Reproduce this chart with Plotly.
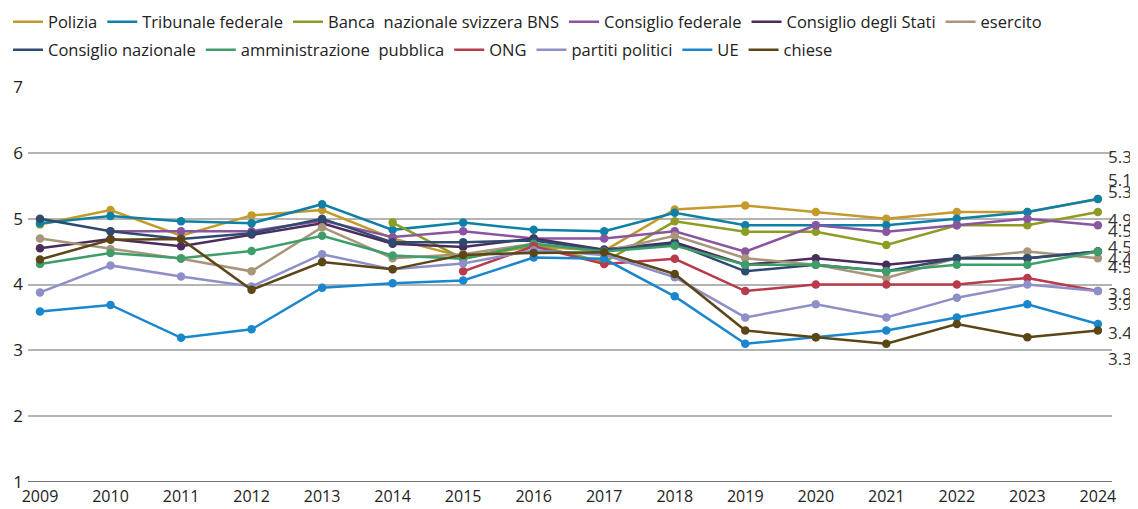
import plotly.graph_objects as go

years = list(range(2009, 2025))

series_names = ["Polizia", "Tribunale federale", "Banca  nazionale svizzera BNS", "Consiglio federale",
                "Consiglio degli Stati", "esercito", "Consiglio nazionale", "amministrazione  pubblica",
                "ONG", "partiti politici", "UE", "chiese"]

polizia = [4.91, 5.13, 4.74, 5.05, 5.13, 4.70, 4.42, 4.58, 4.51, 5.14, 5.2, 5.1, 5.0, 5.1, 5.1, 5.3]
tribunale = [4.93, 5.04, 4.96, 4.93, 5.22, 4.83, 4.94, 4.83, 4.81, 5.09, 4.9, 4.9, 4.9, 5.0, 5.1, 5.3]
bns = [None, None, None, None, None, 4.94, 4.39, 4.60, 4.34, 4.96, 4.8, 4.8, 4.6, 4.9, 4.9, 5.1]
cons_fed = [None, 4.81, 4.81, 4.81, 4.97, 4.72, 4.81, 4.70, 4.70, 4.81, 4.5, 4.9, 4.8, 4.9, 5.0, 4.9]
cons_stati = [4.55, 4.69, 4.58, 4.76, 4.93, 4.62, 4.57, 4.70, 4.53, 4.64, 4.3, 4.4, 4.3, 4.4, 4.4, 4.5]
esercito = [4.70, 4.54, 4.39, 4.20, 4.87, 4.40, 4.46, 4.62, 4.50, 4.74, 4.4, 4.3, 4.1, 4.4, 4.5, 4.4]
cons_naz = [5.00, 4.81, 4.69, 4.78, 5.00, 4.64, 4.64, 4.67, 4.52, 4.62, 4.2, 4.3, 4.2, 4.4, 4.4, 4.5]
ammin = [4.31, 4.48, 4.40, 4.51, 4.74, 4.44, 4.39, 4.62, 4.50, 4.59, 4.3, 4.3, 4.2, 4.3, 4.3, 4.5]
ong = [None, None, None, None, None, None, 4.20, 4.58, 4.31, 4.39, 3.9, 4.0, 4.0, 4.0, 4.1, 3.9]
partiti = [3.88, 4.29, 4.12, 3.97, 4.46, 4.23, 4.32, 4.52, 4.45, 4.11, 3.5, 3.7, 3.5, 3.8, 4.0, 3.9]
ue = [3.59, 3.69, 3.19, 3.32, 3.95, 4.02, 4.06, 4.41, 4.39, 3.82, 3.1, 3.2, 3.3, 3.5, 3.7, 3.4]
chiese = [4.38, 4.68, 4.69, 3.92, 4.34, 4.23, 4.45, 4.48, 4.49, 4.16, 3.3, 3.2, 3.1, 3.4, 3.2, 3.3]

all_values = [polizia, tribunale, bns, cons_fed, cons_stati, esercito, cons_naz, ammin, ong, partiti, ue, chiese]

colors = ["#C49A2C", "#0E80A6", "#8E9C24", "#8A55A0", "#4A2D5C", "#A8957A",
          "#2E4A6E", "#3E9E6A", "#B83A4B", "#8E8FC8", "#1A86CC", "#5C4516"]

# end labels (text and vertical placement as in the original)
end_label_text = ["5.3", "5.1", "5.3", "4.9", "4.5", "4.5", "4.4", "4.5", "3.9", "3.9", "3.4", "3.3"]
end_label_y = [5.94, 5.60, 5.41, 4.99, 4.82, 4.57, 4.40, 4.28, 3.86, 3.71, 3.27, 2.88]

y_ticks = [1, 2, 3, 4, 5, 6, 7]

FONT = "Open Sans"

fig = go.Figure()

for name, vals, col in zip(series_names, all_values, colors):
    fig.add_trace(go.Scatter(x=years, y=vals, mode="lines+markers", name=name,
                             line=dict(color=col, width=2.5), marker=dict(color=col, size=8.5),
                             showlegend=False, connectgaps=False))

# legend-only entries (line symbol only), two rows
for i, (name, col) in enumerate(zip(series_names, colors)):
    fig.add_trace(go.Scatter(x=[None], y=[None], mode="lines", name=name,
                             line=dict(color=col, width=2.5), showlegend=True,
                             legend="legend" if i < 6 else "legend2"))

for yv in [1, 3, 5]:
    fig.add_shape(type="line", xref="paper", yref="y", x0=0, x1=1, y0=yv, y1=yv,
                  line=dict(color="#454545", width=1.5), layer="below")

for t, yv in zip(end_label_text, end_label_y):
    fig.add_annotation(x=1.0, xref="paper", y=yv, yref="y", text=t, showarrow=False,
                       xanchor="left", yanchor="middle", xshift=-6,
                       font=dict(family=FONT, size=17, color="#333333"))

legend_common = dict(orientation="h", xref="container", yref="container", xanchor="left",
                     yanchor="middle", font=dict(family=FONT, size=16.5, color="#222222"),
                     bgcolor="rgba(0,0,0,0)", itemwidth=30)

fig.update_layout(
    width=1138, height=509,
    margin=dict(l=20, r=34, t=79, b=35),
    paper_bgcolor="white", plot_bgcolor="white",
    font=dict(family=FONT, size=16, color="#222222"),
    legend=dict(x=0.0, y=0.9725, **legend_common),
    legend2=dict(x=0.0, y=0.9175, **legend_common),
    showlegend=True,
)
fig.update_xaxes(range=[2008.83, 2024.2], tickmode="array", tickvals=years,
                 ticktext=[str(y) for y in years], showgrid=False, zeroline=False,
                 showline=False, ticks="", tickfont=dict(size=16), automargin=False,
                 ticklabelstandoff=3)
fig.update_yaxes(range=[1, 7], tickmode="array", tickvals=y_ticks, showgrid=True,
                 gridcolor="#b4b4b4", gridwidth=1.5, zeroline=False, showline=False,
                 ticks="", tickfont=dict(size=17), automargin=False, ticklabelstandoff=4)

fig.write_html("out.html")
